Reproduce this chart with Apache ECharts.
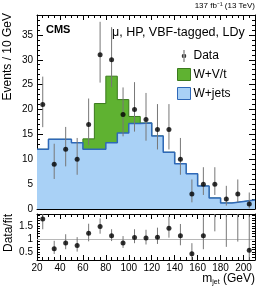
<!DOCTYPE html>
<html>
<head>
<meta charset="utf-8">
<script src="https://cdn.jsdelivr.net/npm/echarts@6/dist/echarts.min.js"></script>
<style>
html,body{margin:0;padding:0;background:#fff;}
#c{width:266px;height:306px;}
</style>
</head>
<body>
<div id="c"></div>
<script>
// ---- data ----
const binCenters = [25,35,45,55,65,75,85,95,105,115,125,135,145,155,165,175,185,195,205];
const binWidth = 10;
const dataCounts = [21,9,12,10,17,31,30,19,20,18,16,16,10,3,5,5,2,3,1];
const dataErrLow  = [16.45,6.04,8.57,6.88,12.85,25.41,24.5,14.61,15.56,13.73,11.97,11.97,6.88,1.34,2.82,2.82,0.68,1.34,0.13];
const dataErrHigh = [26.61,13.12,16.5,14.28,22.21,37.63,36.55,24.44,25.5,23.33,21.09,21.09,14.28,5.94,8.4,8.4,4.66,5.94,3.32];
const wjets = [12,14,14,13.3,12,12,13.3,15.3,17.2,17.3,14.7,11.4,9.1,7.07,4.6,2.2,1.2,1.5,1.8];
const wvt   = [0,0,0,0,2.1,9.2,13.4,6.7,1.4,0,0,0,0,0,0,0,0,0,0];
const ratio     = [1.76,0.63,0.85,0.75,1.22,1.47,1.12,0.85,1.06,1.04,1.07,1.41,1.12,0.44,1.12,2.27,2.1,2.05,0.57];
const ratioLow  = [1.37,0.43,0.61,0.52,0.91,1.20,0.92,0.66,0.84,0.79,0.81,1.05,0.76,0.19,0.61,1.29,0.70,0.90,0.07];
const ratioHigh = [2.22,0.93,1.18,1.07,1.58,1.78,1.37,1.11,1.37,1.35,1.43,1.85,1.57,0.84,1.83,3.8,4.5,4.0,1.9];
const xTicks = {min:20, max:210, interval:20};
const yTicksTop = {min:0, max:39, interval:5};
const yTicksRatio = {min:0.2, max:1.95, interval:0.1};
const ratioLabels = [0.5, 1, 1.5];

// ---- styles ----
const FONT = 'Liberation Sans, Arial, sans-serif';
const blueFill = '#a9d1f6', blueEdge = '#2e68b8';
const greenFill = '#5fb231', greenEdge = '#3a7a1c';

const stackTotal = wjets.map((v,i)=>v + wvt[i]);

function stepData(vals){
  const pts = binCenters.map((c,i)=>[c - binWidth/2, vals[i]]);
  const n = binCenters.length - 1;
  pts.push([binCenters[n] + binWidth/2, vals[n]]);
  return pts;
}
function errRender(params, api){
  const x = api.value(0);
  const p1 = api.coord([x, api.value(1)]);
  const p2 = api.coord([x, api.value(2)]);
  return {type:'line', shape:{x1:p1[0], y1:p1[1], x2:p2[0], y2:p2[1]}, style:{stroke:'#777', lineWidth:1}};
}
function xAx(grid, pos, labels){
  return {type:'value', gridIndex:grid, position:pos, min:xTicks.min, max:xTicks.max, interval:xTicks.interval,
    axisLine:{show:true, onZero:false, lineStyle:{color:'#000', width:1}},
    axisTick:{show:true, inside:true, length:5, lineStyle:{color:'#000'}},
    minorTick:{show:true, splitNumber:4, length:3, lineStyle:{color:'#000'}},
    splitLine:{show:false},
    axisLabel:{show:labels, color:'#000', fontSize:10, fontFamily:FONT, margin:3,
      showMaxLabel:true, showMinLabel:true, hideOverlap:false,
      formatter:function(v){ return (v % xTicks.interval === 0) ? String(v) : ''; }}};
}
function yAx(grid, pos, t, labels, minorSplit, fmt){
  return {type:'value', gridIndex:grid, position:pos, min:t.min, max:t.max, interval:t.interval,
    axisLine:{show:true, onZero:false, lineStyle:{color:'#000', width:1}},
    axisTick:{show:true, inside:true, length: minorSplit ? 6 : 3, lineStyle:{color:'#000'}},
    minorTick:{show: !!minorSplit, splitNumber: minorSplit || 5, length:3, lineStyle:{color:'#000'}},
    splitLine:{show:false},
    axisLabel:{show:labels, color:'#000', fontSize:10, fontFamily:FONT, margin:4, formatter: fmt, showMaxLabel:false}};
}

const chart = echarts.init(document.getElementById('c'), null, {renderer:'canvas'});
const option = {
  animation:false,
  textStyle:{fontFamily:FONT},
  title:[
    {text:'CMS', left:46, top:24, padding:0, textStyle:{fontSize:11, fontWeight:'bold', color:'#000', fontFamily:FONT}},
    {text:'\u03bc, HP, VBF-tagged, LDy', left:112, top:26, padding:0, textStyle:{fontSize:12.5, fontWeight:'normal', color:'#000', fontFamily:FONT}},
    {text:'137 fb\u207b\u00b9 (13 TeV)', right:11, top:2, padding:0, textStyle:{fontSize:8, fontWeight:'normal', color:'#000', fontFamily:FONT}}
  ],
  legend:{
    orient:'vertical', left:177, top:50, padding:0, itemWidth:13, itemHeight:12, itemGap:6,
    textStyle:{fontSize:12, color:'#000', fontFamily:FONT, padding:[0,0,0,-2]},
    data:[
      {name:'Data', icon:'path://M5.6,0 L6.4,0 L6.4,12 L5.6,12 Z M3.7,6 a2.3,2.3 0 1,0 4.6,0 a2.3,2.3 0 1,0 -4.6,0 Z', itemStyle:{color:'#000'}},
      {name:'W+V/t', icon:'rect', itemStyle:{color:greenFill, borderColor:greenEdge, borderWidth:1}},
      {name:'W+jets', icon:'rect', itemStyle:{color:blueFill, borderColor:blueEdge, borderWidth:1}}
    ]
  },
  graphic:[
    {type:'text', x:8, y:13, rotation:Math.PI/2, style:{text:'Events / 10 GeV', fontSize:12, fontFamily:FONT, fill:'#000', align:'right', verticalAlign:'middle'}},
    {type:'text', x:9, y:233, rotation:Math.PI/2, style:{text:'Data/fit', fontSize:12, fontFamily:FONT, fill:'#000', align:'center', verticalAlign:'middle'}},
    {type:'text', x:255, y:279, style:{rich:{m:{fontSize:12, fontFamily:FONT, fill:'#000'}, s:{fontSize:7, fontFamily:FONT, fill:'#000', padding:[6,0,0,0]}}, text:'{m|m}{s|jet}{m| (GeV)}', align:'right', verticalAlign:'middle'}}
  ],
  grid:[
    {left:37, top:15, width:218, height:194},
    {left:37, top:214, width:218, height:46}
  ],
  xAxis:[ xAx(0,'bottom',false), xAx(0,'top',false), xAx(1,'bottom',true), xAx(1,'top',false) ],
  yAxis:[
    yAx(0,'left',yTicksTop,true,5),
    yAx(0,'right',yTicksTop,false,5),
    yAx(1,'left',yTicksRatio,true,0,function(v){
      for (const r of ratioLabels){ if (Math.abs(v-r)<1e-6) return String(r); }
      return '';
    }),
    yAx(1,'right',yTicksRatio,false,0)
  ],
  series:[
    {name:'W+V/t', type:'line', xAxisIndex:0, yAxisIndex:0, step:'end', showSymbol:false, symbol:'none', z:2,
     data:stepData(stackTotal), lineStyle:{color:greenEdge, width:1}, itemStyle:{color:greenFill}, areaStyle:{color:greenFill, opacity:1, origin:'start'}},
    {name:'W+jets', type:'line', xAxisIndex:0, yAxisIndex:0, step:'end', showSymbol:false, symbol:'none', z:3,
     data:stepData(wjets), lineStyle:{color:blueEdge, width:1.5}, itemStyle:{color:blueFill}, areaStyle:{color:blueFill, opacity:1, origin:'start'}},
    {name:'DataErr', type:'custom', xAxisIndex:0, yAxisIndex:0, z:5, clip:true, renderItem:errRender,
     encode:{x:0, y:[1,2]}, data:binCenters.map((c,i)=>[c, dataErrLow[i], dataErrHigh[i]])},
    {name:'Data', type:'scatter', xAxisIndex:0, yAxisIndex:0, z:6, symbol:'circle', symbolSize:5,
     itemStyle:{color:'#000'}, data:binCenters.map((c,i)=>[c, dataCounts[i]])},
    {name:'RatioErr', type:'custom', xAxisIndex:2, yAxisIndex:2, z:5, clip:true, renderItem:errRender,
     encode:{x:0, y:[1,2]}, data:binCenters.map((c,i)=>[c, ratioLow[i], ratioHigh[i]])},
    {name:'Ratio', type:'scatter', xAxisIndex:2, yAxisIndex:2, z:6, symbol:'circle', symbolSize:5, clip:true,
     itemStyle:{color:'#000'}, data:binCenters.map((c,i)=>[c, ratio[i]]),
     markLine:{silent:true, symbol:'none', z:1, label:{show:false}, lineStyle:{color:'#b8b8b8', type:'solid', width:1}, data:[{yAxis:1}]}}
  ]
};
chart.setOption(option);
</script>
</body>
</html>
